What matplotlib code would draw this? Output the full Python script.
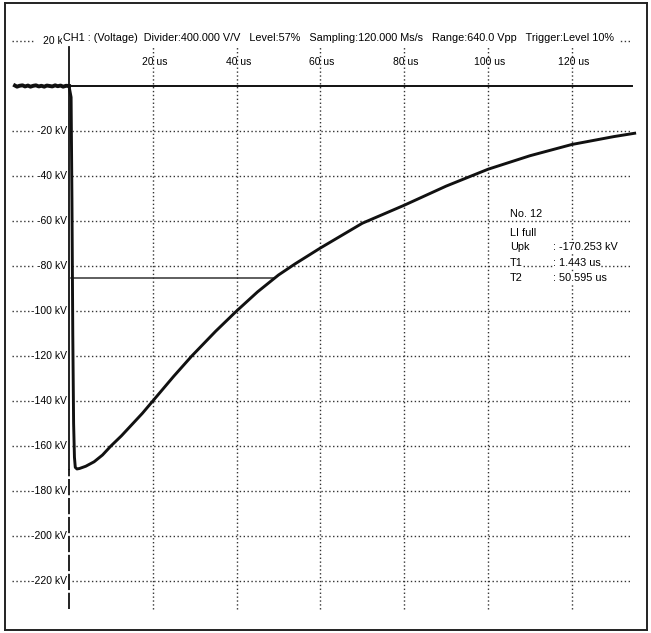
import matplotlib.pyplot as plt
import numpy as np

# ------------------------------------------------------------
# data (time in us, voltage in kV)
# ------------------------------------------------------------
t_pre = [-12.9, -12.4, -11.8, -11.1, -10.5, -9.8, -9.2, -8.5, -7.9, -7.2, -6.6, -5.9,
         -5.3, -4.6, -4.0, -3.3, -2.7, -2.0, -1.4, -0.7, 0.0]
v_pre = [0.2, -0.3, 0.1, 0.3, -0.2, 0.2, -0.3, 0.1, 0.3, -0.2, 0.1, -0.3, 0.2, 0.0,
         -0.2, 0.3, -0.1, 0.2, -0.3, 0.1, 0.0]

t_imp = [0.0, 0.5, 0.7, 0.9, 1.1, 1.3, 1.5, 1.9, 2.5, 4.0, 6.0, 8.0, 10.0, 12.5, 15.0, 17.5,
         20.0, 25.0, 29.3, 35.0, 40.0, 45.0, 50.0, 54.0, 60.0, 70.0, 80.0, 90.0, 100.0,
         110.0, 120.0, 130.0, 135.0]
v_imp = [0.0, -5.0, -50.0, -110.0, -150.0, -165.0, -169.5, -170.2, -170.0, -169.0, -167.0,
         -164.0, -160.0, -155.5, -150.5, -145.5, -140.0, -129.0, -120.0, -109.0, -100.0,
         -91.5, -84.0, -79.0, -72.0, -61.0, -53.0, -44.5, -37.0, -31.0, -26.0, -22.5, -21.0]

x_ticks = [20, 40, 60, 80, 100, 120]
y_ticks = [-20, -40, -60, -80, -100, -120, -140, -160, -180, -200, -220]

u_pk = -170.253
t1 = 1.443
t2 = 50.595
t_half = 49.2      # where the 50 % line meets the tail

header = ("CH1 : (Voltage)  Divider:400.000 V/V   Level:57%   Sampling:120.000 Ms/s   "
          "Range:640.0 Vpp   Trigger:Level 10%  ")

info_keys = ["No. 12", "LI full", "Upk", "T1", "T2"]
info_vals = ["", "", f": {u_pk:.3f} kV", f": {t1:.3f} us", f": {t2:.3f} us"]

# ------------------------------------------------------------
# figure
# ------------------------------------------------------------
plt.rcParams['font.family'] = ['Liberation Sans Narrow', 'Liberation Sans', 'DejaVu Sans']

W, H = 651, 633
fig = plt.figure(figsize=(W / 100, H / 100), dpi=100)
fig.patch.set_facecolor('white')
ax = fig.add_axes([5 / W, 3 / H, 642 / W, 627 / H])

# pixel mapping of the screenshot: 0 us at x=69, 4.19 px/us ; 0 kV at y=86, 2.25 px/kV
ax.set_xlim((5 - 69) / 4.19, (647 - 69) / 4.19)
ax.set_ylim(-(630 - 86) / 2.25, (86 - 3) / 2.25)
ax.set_xticks([])
ax.set_yticks([])
for s in ax.spines.values():
    s.set_linewidth(1.4)
    s.set_color('#222222')

dot = dict(color='#333333', linewidth=1.0, linestyle=(0, (1, 1.8)))

g_top, g_bot = 17.3, -232.4
g_left, g_right = 0.7, 134.4
stub = (-13.6, -8.1)

for xt in x_ticks:
    ax.plot([xt, xt], [g_bot, g_top], **dot)
    ax.text(xt + 0.4, 10.7, f"{xt} us", ha='center', va='center', fontsize=7.5)

for yt in y_ticks:
    ax.plot([g_left, g_right], [yt, yt], **dot)
    ax.plot(stub, [yt, yt], **dot)
    ax.text(-0.5, yt, f"{yt} kV", ha='right', va='center', fontsize=7.5,
            bbox=dict(facecolor='white', edgecolor='none', pad=0.3))

# +20 kV row, mostly hidden behind the header text
ax.plot([g_left, g_right], [20, 20], **dot)
ax.plot(stub, [20, 20], **dot)
ax.text(-1.4, 20, "20 k", ha='right', va='center', fontsize=7.5)
ax.text(-1.5, 21.3, header, ha='left', va='center', fontsize=7.8,
        bbox=dict(facecolor='white', edgecolor='none', pad=0.5))

# axis line at trigger: solid down to the peak, dashed below
ax.plot([-0.1, -0.1], [u_pk, g_top], color='#111111', linewidth=1.3)
ax.plot([-0.1, -0.1], [g_bot, u_pk], color='#111111', linewidth=1.3,
        linestyle=(0, (9, 1.5)))

# 0 kV reference line and 50 % line
ax.plot([0, g_right], [0, 0], color='#111111', linewidth=1.4)
ax.plot([0.5, t_half], [u_pk / 2, u_pk / 2], color='#333333', linewidth=1.1)

# waveform
ax.plot(t_pre, v_pre, color='#111111', linewidth=2.8, solid_joinstyle='round')
ax.plot(t_imp, v_imp, color='#111111', linewidth=2.1, solid_joinstyle='round')

# info block
info_y = [(86 - 214) / 2.25, (86 - 232.7) / 2.25, (86 - 246.7) / 2.25,
          (86 - 262.7) / 2.25, (86 - 278) / 2.25]
for k, v, y in zip(info_keys, info_vals, info_y):
    ax.text((510 - 69) / 4.19, y, k, ha='left', va='center', fontsize=7.8,
            bbox=dict(facecolor='white', edgecolor='none', pad=0.2))
    if v:
        ax.text((553 - 69) / 4.19, y, v, ha='left', va='center', fontsize=7.8,
                bbox=dict(facecolor='white', edgecolor='none', pad=0.2))

fig.savefig('out.png', dpi=100, facecolor='white')
